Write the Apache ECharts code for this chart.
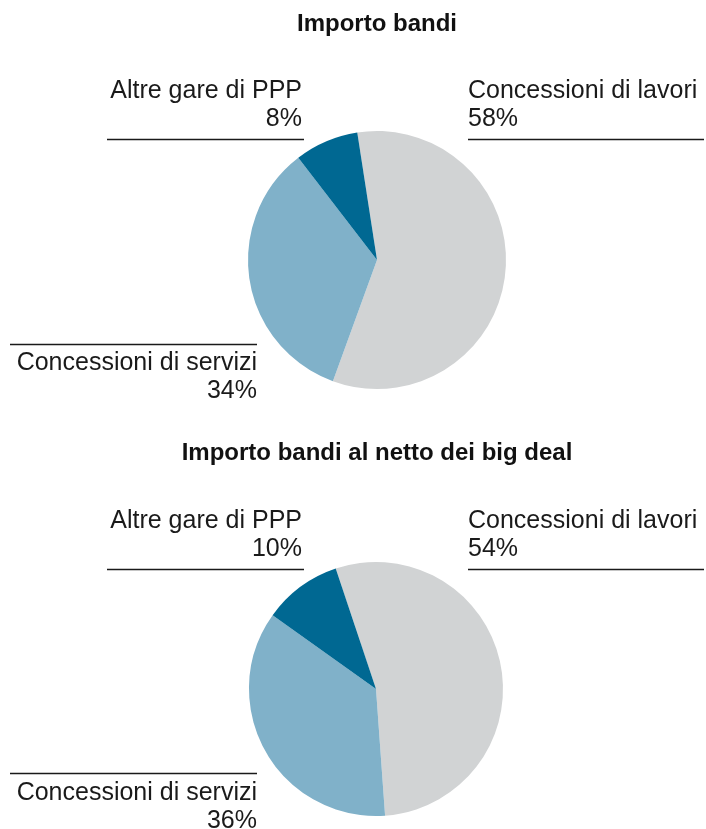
<!DOCTYPE html>
<html>
<head>
<meta charset="utf-8">
<script src="https://cdn.jsdelivr.net/npm/echarts@6/dist/echarts.min.js"></script>
<style>
  html, body { margin: 0; padding: 0; background: #fff; }
  #chart { width: 706px; height: 829px; }
</style>
</head>
<body>
<div id="chart"></div>
<script>
const titles = ['Importo bandi', 'Importo bandi al netto dei big deal'];
const categories = ['Concessioni di lavori', 'Concessioni di servizi', 'Altre gare di PPP'];
const valuesTop = [58, 34, 8];
const valuesBottom = [54, 36, 10];
const colors = ['#d1d3d4', '#80b1c9', '#006892'];

const FONT = 'Liberation Sans';
let chart = echarts.init(document.getElementById('chart'));

function pieSeries(values, center, radius, startAngle) {
    return {
        type: 'pie',
        center: center,
        radius: radius,
        startAngle: startAngle,
        clockwise: true,
        silent: true,
        label: { show: false },
        labelLine: { show: false },
        itemStyle: { borderWidth: 0 },
        data: categories.map(function (c, i) {
            return { name: c, value: values[i], itemStyle: { color: colors[i] } };
        })
    };
}

const txt = { fontFamily: FONT, fontSize: 25, fill: '#1a1a1a', lineHeight: 28 };
const rule = { stroke: '#1a1a1a', lineWidth: 1.3 };

// labels with a rule, placed around each pie
function annotations(values, dy, servRule, servTop) {
    let out = [];
    out.push({ type: 'text', x: 468, y: 77 + dy,
        style: Object.assign({}, txt, { text: categories[0] + '\n' + values[0] + '%', textAlign: 'left' }) });
    out.push({ type: 'line', shape: { x1: 468, y1: 139.5 + dy, x2: 704, y2: 139.5 + dy }, style: rule });
    out.push({ type: 'text', x: 302, y: 77 + dy,
        style: Object.assign({}, txt, { text: categories[2] + '\n' + values[2] + '%', textAlign: 'right' }) });
    out.push({ type: 'line', shape: { x1: 107, y1: 139.5 + dy, x2: 304, y2: 139.5 + dy }, style: rule });
    out.push({ type: 'line', shape: { x1: 10, y1: servRule, x2: 257, y2: servRule }, style: rule });
    out.push({ type: 'text', x: 257, y: servTop,
        style: Object.assign({}, txt, { text: categories[1] + '\n' + values[1] + '%', textAlign: 'right' }) });
    return out;
}

let graphic = annotations(valuesTop, 0, 344.5, 349)
    .concat(annotations(valuesBottom, 430, 773.5, 779));

let titleStyle = { fontFamily: FONT, fontSize: 24, fontWeight: 'bold', color: '#111', lineHeight: 24 };

let option = {
    backgroundColor: '#fff',
    animation: false,
    title: [
        { text: titles[0], left: 377, top: 12, padding: 0, textAlign: 'center', textStyle: titleStyle },
        { text: titles[1], left: 377, top: 441, padding: 0, textAlign: 'center', textStyle: titleStyle }
    ],
    graphic: graphic,
    series: [
        pieSeries(valuesTop, [377, 260], 129, 98.8),
        pieSeries(valuesBottom, [376, 689], 127, 108.5)
    ]
};
chart.setOption(option);
</script>
</body>
</html>
